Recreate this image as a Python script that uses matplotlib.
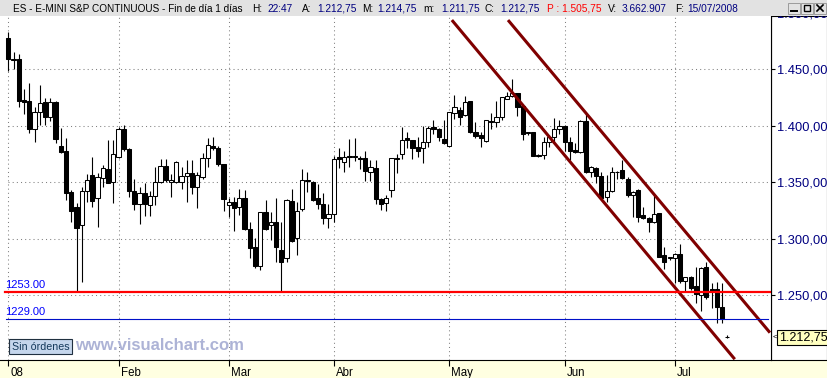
import matplotlib
matplotlib.use('Agg')
import matplotlib.pyplot as plt
import matplotlib.patches as patches
import numpy as np

plt.rcParams['font.family'] = ['Liberation Sans', 'DejaVu Sans']

# daily bars, ES e-mini S&P continuous, 02/01/2008 - 15/07/2008
opens = [1478, 1458.5, 1459, 1423, 1422, 1397, 1412.5, 1421, 1408, 1421,
         1382, 1377.75, 1341, 1328, 1312, 1342, 1356.5, 1336, 1353.5, 1361.5,
         1350, 1372.75, 1397.25, 1379.5, 1342.5, 1330.75, 1340.25, 1330, 1338, 1350,
         1364.5, 1350, 1350, 1350, 1355.5, 1358, 1346, 1354.5, 1371.25, 1382,
         1380, 1366.25, 1330, 1332.25, 1328, 1336, 1308.5, 1292.5, 1276.25, 1323.5,
         1312.25, 1314.5, 1290, 1282.75, 1333.5, 1300.5, 1326, 1351.5, 1350, 1336,
         1330.5, 1318.75, 1321.75, 1372, 1368.25, 1373.25, 1373.25, 1371.25, 1371.25, 1359.5,
         1362.5, 1335, 1331.5, 1343, 1371.25, 1374.75, 1389, 1387.5, 1381, 1380,
         1386, 1398.75, 1397, 1388, 1382.5, 1411, 1414, 1409.5, 1422, 1394.5,
         1392, 1386.75, 1404.5, 1403.5, 1407.5, 1424, 1426.5, 1428.75, 1417.5, 1394.25,
         1394.25, 1374.25, 1374.25, 1385.5, 1389.75, 1397.25, 1400, 1385.5, 1378.5, 1376.5,
         1404.5, 1359.5, 1362.5, 1355.75, 1336.75, 1342.5, 1359, 1361, 1353, 1338.75,
         1343.25, 1321, 1318, 1315, 1322.5, 1285.75, 1282.75, 1282.75, 1286.5, 1263,
         1266, 1258.5, 1250.25, 1274.75, 1255.25, 1255.25, 1240, 1212.75]
highs = [1483.25, 1465, 1463.5, 1432.25, 1438.25, 1417, 1436, 1424.25, 1424.25, 1422.25,
         1398, 1389, 1343.25, 1331.5, 1346, 1357.5, 1372.75, 1358, 1365.25, 1387.5,
         1387.5, 1399.25, 1400.75, 1380, 1353, 1346, 1349, 1342.5, 1363.75, 1370.5,
         1370.5, 1357.5, 1369, 1363.75, 1369.75, 1369.75, 1359.5, 1376.25, 1389.25, 1389.75,
         1382, 1366.25, 1336, 1337.25, 1343.75, 1343.25, 1315, 1300.5, 1324, 1334.25,
         1323.5, 1336, 1314.5, 1335, 1344, 1333, 1361.75, 1359.5, 1351.5, 1348.5,
         1340.25, 1330.75, 1373.5, 1380, 1378, 1388.25, 1389, 1373.25, 1378, 1369.75,
         1369.75, 1336, 1338.75, 1371.75, 1375, 1399.25, 1394.75, 1387.5, 1389.75, 1400,
         1400, 1405, 1397.75, 1405, 1412.5, 1427.25, 1417, 1426.5, 1422, 1403.5,
         1394.75, 1405, 1411.5, 1422, 1425.75, 1430.25, 1441.5, 1429.25, 1417.5, 1394.75,
         1394.25, 1374.75, 1390.5, 1392, 1406.5, 1405, 1400.75, 1389.75, 1385, 1405,
         1411, 1364.5, 1363.25, 1359.5, 1356.5, 1363.25, 1360.25, 1369.75, 1354.5, 1342.5,
         1343.75, 1328.5, 1319.5, 1338.75, 1322.5, 1293, 1284.25, 1287.25, 1295.5, 1266.5,
         1267, 1275.25, 1274.75, 1279.75, 1260.5, 1262, 1261.25, 1214.75]
lows = [1448.75, 1450, 1417, 1410.25, 1393.5, 1385.5, 1400.75, 1401, 1404.5, 1385,
        1375.75, 1334.25, 1315, 1253, 1261.5, 1333, 1328.5, 1310.25, 1346, 1349,
        1331.5, 1371.25, 1378, 1337.25, 1325.5, 1312.75, 1320.5, 1320.5, 1330, 1349,
        1350, 1336.75, 1349, 1343.75, 1333, 1339.75, 1327, 1352.75, 1363.75, 1378.5,
        1364.75, 1325, 1319.5, 1307.25, 1321, 1307.75, 1282.75, 1274, 1272.5, 1307.75,
        1299, 1279.25, 1253.5, 1279.25, 1297.5, 1285.75, 1325, 1341.75, 1333.75, 1326.5,
        1313, 1309.25, 1315, 1362.5, 1359.5, 1363.75, 1369, 1361.5, 1351.5, 1351.5,
        1330.75, 1325.5, 1325, 1337.25, 1358.5, 1370.5, 1380, 1370.5, 1372.75, 1367.5,
        1381, 1392.75, 1386.75, 1384, 1382, 1405.75, 1400.75, 1408.75, 1394, 1389,
        1381.5, 1386, 1397, 1399, 1405, 1423.5, 1425.75, 1408.75, 1387.5, 1392,
        1373.25, 1372.75, 1370.5, 1381.5, 1384.5, 1392.75, 1378, 1369.75, 1375.75, 1375.75,
        1358, 1355, 1349, 1335, 1333, 1341.75, 1352.75, 1353, 1337, 1319.5,
        1315, 1317.5, 1305.75, 1313.75, 1283.5, 1273, 1281.25, 1260.5, 1261.25, 1253.25,
        1254.75, 1243, 1236.5, 1246.5, 1238.5, 1225.25, 1225.25, 1211.75]
closes = [1459, 1459, 1422.25, 1420.75, 1397, 1412, 1420, 1408, 1421, 1388.5,
          1376.5, 1340.25, 1325, 1309.25, 1342, 1352, 1333.75, 1354.75, 1362.75, 1349.75,
          1374.75, 1397.25, 1379.25, 1342.5, 1330.75, 1340.25, 1330.5, 1338, 1350, 1364.5,
          1351.75, 1351.75, 1367.75, 1355.5, 1358.5, 1346, 1356.25, 1371.25, 1382.75, 1380,
          1366, 1335, 1332.25, 1327, 1336, 1308.5, 1292, 1276.25, 1323.5, 1308.75,
          1315, 1292.5, 1279.25, 1334.25, 1298, 1325, 1351.75, 1352, 1334.25, 1330.5,
          1318.75, 1321.75, 1370.5, 1370.5, 1372.75, 1372, 1372, 1370.5, 1360.25, 1363.25,
          1335.5, 1330.75, 1336, 1371.25, 1371, 1387.25, 1387.5, 1380.5, 1378, 1385.5,
          1397.75, 1397, 1390.5, 1384.5, 1412, 1416.5, 1408, 1421, 1394.75, 1391.25,
          1389, 1405, 1403.5, 1407.5, 1425.25, 1426.5, 1429.25, 1417, 1392.5, 1393.5,
          1373.5, 1373.25, 1385.5, 1389.75, 1397.25, 1400, 1385.5, 1378, 1376.5, 1404.5,
          1359.5, 1363.25, 1355.75, 1336, 1342.5, 1359.5, 1359.5, 1353.5, 1338.75, 1341.75,
          1319, 1318, 1314.5, 1322, 1284.25, 1279.75, 1283.5, 1286.5, 1263, 1266,
          1256.75, 1251.25, 1274, 1248.25, 1254, 1240, 1228.75, 1212.75]

month_labels = ['08', 'Feb', 'Mar', 'Abr', 'May', 'Jun', 'Jul']
month_starts = [0, 21, 42, 62, 84, 106, 127]
price_ticks = [1250, 1300, 1350, 1400, 1450]
top_tick = 1500
support_level = 1253.00
stop_level = 1229.00
last_price = 1212.75

# bajista channel, (bar index, price) at both ends
channel_upper = ([95.2, 145.1], [1493.6, 1216.9])
channel_lower = ([84.5, 138.4], [1493.6, 1193.4])

# title bar: (left x of label, label, right x of value, value, value colour)
header_title = 'ES - E-MINI S&P CONTINUOUS - Fin de día 1 días'
header_fields = [
    (252, 'H:', 293, '22:47', '#000080'),
    (302, 'A:', 357, '1.212,75', '#000080'),
    (362, 'M:', 417, '1.214,75', '#000080'),
    (423, 'm:', 480, '1.211,75', '#000080'),
    (485, 'C:', 540, '1.212,75', '#000080'),
    (547, '', 602, 'P : 1.505,75', '#ff0000'),
    (608, 'V:', 667, '3.662.907', '#000080'),
    (675, 'F:', 738, '15/07/2008', '#000080'),
]


def es_fmt(v):
    s = f'{v:,.2f}'
    return s.replace(',', 'X').replace('.', ',').replace('X', '.')


W, H = 828, 378
fig = plt.figure(figsize=(W / 100, H / 100), dpi=100)

# background chrome: yellow time strip + price panel box
chrome = fig.add_axes([0, 0, 1, 1], zorder=-2)
chrome.set_xlim(0, W)
chrome.set_ylim(H, 0)
chrome.axis('off')
chrome.add_patch(patches.Rectangle((0, 360), W, 18, facecolor='#ffffe1', edgecolor='none'))
chrome.add_patch(patches.Rectangle((771, 16), 56, 344, facecolor='white', edgecolor='black', lw=0.8))

ax = fig.add_axes([0, 18 / H, 771 / W, 344 / H], zorder=0)
ax.set_facecolor('white')
ax.set_xlim(-1.58, 145.3)
ax.set_ylim(1192.7, 1497.2)
ax.spines['top'].set_visible(False)
ax.spines['left'].set_visible(False)
ax.spines['right'].set_linewidth(0.8)
ax.spines['bottom'].set_linewidth(0.8)

ax.yaxis.tick_right()
ax.set_yticks(price_ticks)
ax.set_yticklabels([es_fmt(v) for v in price_ticks])
ax.tick_params(axis='y', direction='out', length=3, width=0.8, pad=1.5,
               labelsize=9.3, labelcolor='#000080', colors='black')
ax.set_xticks(month_starts)
ax.set_xticklabels([])
ax.tick_params(axis='x', direction='out', length=4.5, width=0.8)
for lbl in ax.get_yticklabels():
    lbl.set_color('#000080')

ax.annotate(es_fmt(top_tick), xy=(1, top_tick), xycoords=('axes fraction', 'data'),
            xytext=(6, -2), textcoords='offset pixels', ha='left', va='center',
            fontsize=9.3, color='#000080', annotation_clip=False)

for m, lbl in zip(month_starts, month_labels):
    ax.annotate(lbl, xy=(m, 0), xycoords=('data', 'axes fraction'),
                xytext=(2, -16), textcoords='offset pixels', ha='left', va='baseline',
                fontsize=8.3, color='black', annotation_clip=False)

# dotted grid
dots = (0, (1, 3))
for m in month_starts:
    ax.axvline(m, color='#808080', lw=0.75, ls=dots, zorder=0)
for p in price_ticks:
    ax.hlines(p, month_starts[0], ax.get_xlim()[1], color='#808080', lw=0.75, ls=dots, zorder=0)

# candles
o = np.array(opens)
h = np.array(highs)
l = np.array(lows)
c = np.array(closes)
x = np.arange(len(o))
up = c >= o
body_lo = np.minimum(o, c)
body_h = np.maximum(np.abs(c - o), 0.25)
ax.vlines(x, l, h, color='black', lw=0.8, zorder=2)
ax.bar(x, body_h, bottom=body_lo, width=0.78,
       color=np.where(up, 'white', 'black'), edgecolor='black', lw=0.75, zorder=3)

# channel lines
ax.plot(*channel_upper, color='#800000', lw=2.2, zorder=4, solid_capstyle='butt')
ax.plot(*channel_lower, color='#800000', lw=2.2, zorder=4, solid_capstyle='butt')

# horizontal levels
ax.axhline(support_level, xmin=5 / 771, color='#ff0000', lw=1.6, zorder=5)
ax.axhline(stop_level, xmin=6 / 771, xmax=768 / 771, color='#0010c8', lw=0.8, zorder=5)
for lvl in (support_level, stop_level):
    ax.annotate(f'{lvl:.2f}', xy=(5 / 771, lvl), xycoords=('axes fraction', 'data'),
                xytext=(0, 4), textcoords='offset pixels', ha='left', va='baseline',
                fontsize=8, color='#0000ff')

# last price flag
ax.annotate(es_fmt(last_price), xy=(1, last_price), xycoords=('axes fraction', 'data'),
            xytext=(8, 0), textcoords='offset pixels', ha='left', va='center',
            fontsize=9, color='black', annotation_clip=False,
            bbox=dict(boxstyle='square,pad=0.12', facecolor='#ffffc0', edgecolor='black', lw=0.8))
ax.annotate('<', xy=(1, last_price), xycoords=('axes fraction', 'data'),
            xytext=(1.5, 0), textcoords='offset pixels', ha='left', va='center',
            fontsize=6, color='black', annotation_clip=False)

# overlay: order box and watermark
over = fig.add_axes([0, 0, 1, 1], zorder=3)
over.set_xlim(0, W)
over.set_ylim(H, 0)
over.axis('off')
over.add_patch(patches.Rectangle((9, 339), 63, 15, facecolor='#c5d6ec', edgecolor='#203040', lw=0.8))
over.text(12, 350.5, 'Sin órdenes', fontsize=7.7, color='#14385a', va='baseline')
over.text(75, 350, 'www.visualchart.com', fontsize=12, fontweight='bold', color='#adb3d6', va='baseline')

# title bar
hdr = fig.add_axes([0, 1 - 16 / H, 1, 16 / H], zorder=5)
hdr.set_xlim(0, W)
hdr.set_ylim(16, 0)
hdr.axis('off')
hdr.add_patch(patches.Rectangle((0, 0), W, 16, facecolor='#e2e2e2', edgecolor='none'))
hdr.text(13, 11.8, header_title, fontsize=7.2, color='black', va='baseline', ha='left')
for lx, lab, vx, val, col in header_fields:
    if lab:
        hdr.text(lx, 11.8, lab, fontsize=7.3, color='black', va='baseline', ha='left')
    hdr.text(vx, 11.8, val, fontsize=7.3, color=col, va='baseline', ha='right')

# window buttons
for bx in (788, 801, 814):
    hdr.add_patch(patches.Rectangle((bx, 2.5), 12, 11, facecolor='#e2e2e2', edgecolor='#909090', lw=0.6))
hdr.plot([791, 797], [11, 11], color='black', lw=1.4)
hdr.add_patch(patches.Rectangle((804, 5), 6, 6, facecolor='none', edgecolor='black', lw=1.0))
hdr.plot([817, 823], [5, 11], color='black', lw=1.2)
hdr.plot([817, 823], [11, 5], color='black', lw=1.2)

fig.savefig('out.png', dpi=100)
